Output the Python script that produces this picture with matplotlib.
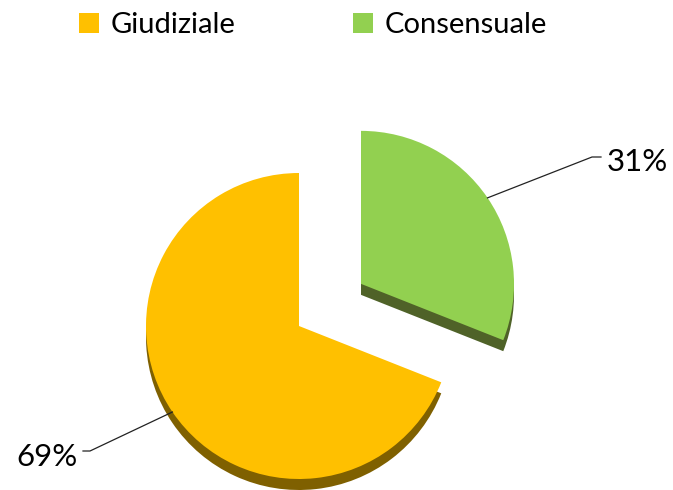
import numpy as np
import matplotlib
matplotlib.use("Agg")
import matplotlib.pyplot as plt
from matplotlib.patches import Patch

categories = ["Giudiziale", "Consensuale"]
values = [69, 31]
pct_labels = ["69%", "31%"]

face_colors = ["#FFC000", "#92D050"]
side_colors = ["#7F6000", "#4F6228"]

W, H = 673, 490
fig = plt.figure(figsize=(W / 100, H / 100), dpi=100)
ax = fig.add_axes([0, 0, 1, 1])

cx, cy = 299, H - 326
R = 153
depth = 11
explode_frac = [0.0, 0.49]
explode = [e * R for e in explode_frac]

# side / depth layer
ax.pie(values, colors=side_colors, startangle=90, counterclock=True,
       explode=explode, radius=R, center=(cx, cy - depth),
       wedgeprops=dict(linewidth=0))
# top faces
wedges, _ = ax.pie(values, colors=face_colors, startangle=90, counterclock=True,
                   explode=explode, radius=R, center=(cx, cy),
                   wedgeprops=dict(linewidth=0))

ax.set_xlim(0, W)
ax.set_ylim(0, H)
ax.set_aspect("equal")
ax.axis("off")

# labels with leader lines
fracs = np.array(values) / np.sum(values)
start = 90.0
text_pos = {0: (16, H - 457), 1: (607, H - 162)}
elbow = {0: (90, H - 451), 1: (592, H - 157)}
for i, (w, f) in enumerate(zip(wedges, fracs)):
    mid = np.deg2rad(start + f * 360 / 2)
    start += f * 360
    ox = explode[i] * np.cos(mid)
    oy = explode[i] * np.sin(mid)
    ax_pt = (cx + ox + R * np.cos(mid), cy + oy + R * np.sin(mid))
    ex, ey = elbow[i]
    tx, ty = text_pos[i]
    hend = tx - 6 if i == 1 else tx + 67
    ax.plot([ax_pt[0], ex, hend], [ax_pt[1], ey, ey], color="#222222", lw=0.9)
    ax.text(tx, ty, pct_labels[i], fontsize=22.5, family="Lato", va="center",
            ha="left", color="black")

handles = [Patch(facecolor=c, edgecolor="none") for c in face_colors]
fig.legend(handles, categories, ncol=2, loc="upper left",
           bbox_to_anchor=(79 / W, 1 - 12 / H), frameon=False,
           prop=dict(family="Lato", size=21), handlelength=0.7,
           handleheight=0.7, handletextpad=0.4, columnspacing=4.0,
           borderpad=0, borderaxespad=0)

fig.savefig("out.png", dpi=100)
